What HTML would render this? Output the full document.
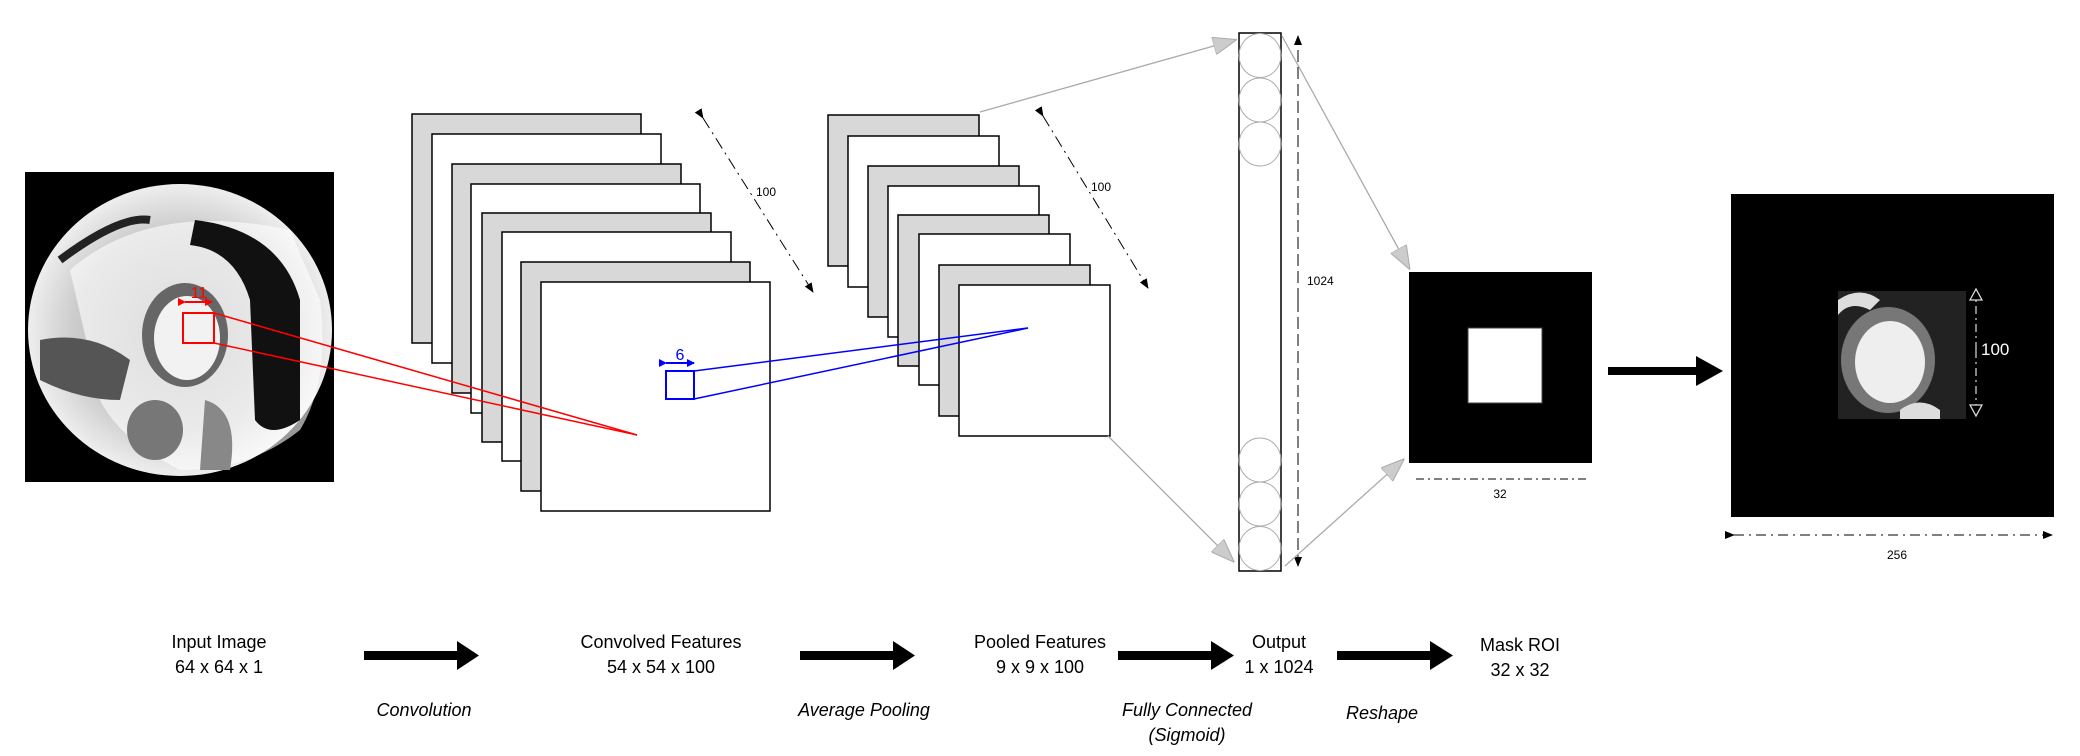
<!DOCTYPE html>
<html><head><meta charset="utf-8"><style>
html,body{margin:0;padding:0;background:#fff}
svg{display:block}
text{font-family:"Liberation Sans",sans-serif}
</style></head><body>
<svg width="2080" height="756" viewBox="0 0 2080 756" xmlns="http://www.w3.org/2000/svg">
<defs>
<marker id="ga" markerWidth="24" markerHeight="18" refX="22" refY="9" orient="auto" markerUnits="userSpaceOnUse">
<path d="M0,0 L24,9 L0,18 Z" fill="#ccc" stroke="#aaa" stroke-width="1"/></marker>
<marker id="ka" markerWidth="10" markerHeight="10" refX="9" refY="5" orient="auto" markerUnits="userSpaceOnUse">
<path d="M0,1 L10,5 L0,9 Z" fill="#000"/></marker>
<marker id="ra" markerWidth="8" markerHeight="8" refX="7" refY="4" orient="auto" markerUnits="userSpaceOnUse">
<path d="M0,0 L8,4 L0,8 Z" fill="#f00"/></marker>
<marker id="ba" markerWidth="8" markerHeight="8" refX="7" refY="4" orient="auto" markerUnits="userSpaceOnUse">
<path d="M0,0 L8,4 L0,8 Z" fill="#00f"/></marker>
<marker id="wa" markerWidth="14" markerHeight="14" refX="12" refY="7" orient="auto" markerUnits="userSpaceOnUse">
<path d="M1,1 L12,7 L1,13 Z" fill="#000" stroke="#ddd" stroke-width="1.3"/></marker>
<radialGradient id="mri" cx="0.5" cy="0.5" r="0.5">
<stop offset="0" stop-color="#aaa"/><stop offset="0.7" stop-color="#ccc"/><stop offset="1" stop-color="#eee"/></radialGradient>
</defs>

<!-- Input image -->
<rect x="25" y="172" width="309" height="310" fill="#000"/>
<ellipse cx="180" cy="330" rx="152" ry="146" fill="url(#mri)"/>
<path d="M70,270 Q150,200 290,230 L320,300 Q330,380 300,430 Q250,470 180,470 Q120,440 100,400 Z" fill="#fff" opacity="0.6"/>
<path d="M195,220 Q280,230 300,300 L300,420 Q270,440 255,420 L250,300 Q235,250 190,245 Z" fill="#111"/>
<ellipse cx="185" cy="335" rx="43" ry="52" fill="#666"/>
<ellipse cx="187" cy="338" rx="33" ry="42" fill="#f2f2f2"/>
<path d="M40,340 Q90,330 130,360 L120,400 Q80,400 40,380 Z" fill="#555"/>
<ellipse cx="155" cy="430" rx="28" ry="30" fill="#777"/>
<path d="M205,400 Q240,410 230,470 L200,470 Z" fill="#888"/>
<path d="M60,260 Q120,215 150,220" stroke="#222" stroke-width="8" fill="none"/>
<rect x="183" y="313" width="31" height="30" fill="none" stroke="#f00" stroke-width="2"/>
<line x1="185" y1="302" x2="212" y2="302" stroke="#f00" stroke-width="2" marker-end="url(#ra)" marker-start="url(#ra)"/>
<text x="199" y="298" font-size="16" fill="#f00" text-anchor="middle">11</text>

<!-- Conv stack -->
<g stroke="#000" stroke-width="1.5">
<rect x="412" y="114" width="229" height="229" fill="#d8d8d8"/>
<rect x="432" y="134" width="229" height="229" fill="#fff"/>
<rect x="452" y="164" width="229" height="229" fill="#d8d8d8"/>
<rect x="471" y="184" width="229" height="229" fill="#fff"/>
<rect x="482" y="213" width="229" height="229" fill="#d8d8d8"/>
<rect x="502" y="232" width="229" height="229" fill="#fff"/>
<rect x="521" y="262" width="229" height="229" fill="#d8d8d8"/>
<rect x="541" y="282" width="229" height="229" fill="#fff"/>
</g>
<line x1="214" y1="313" x2="637" y2="435" stroke="#f00" stroke-width="1.5"/>
<line x1="214" y1="343" x2="637" y2="435" stroke="#f00" stroke-width="1.5"/>
<rect x="666" y="371" width="28" height="28" fill="none" stroke="#00f" stroke-width="2"/>
<line x1="666" y1="363" x2="694" y2="363" stroke="#00f" stroke-width="2" marker-end="url(#ba)" marker-start="url(#ba)"/>
<text x="680" y="360" font-size="16" fill="#00f" text-anchor="middle">6</text>
<line x1="703" y1="118" x2="813" y2="292" stroke="#000" stroke-width="1" stroke-dasharray="12,5,2,5" marker-end="url(#ka)" marker-start="url(#ka)"/>
<text x="756" y="196" font-size="12">100</text>

<!-- Pool stack -->
<g stroke="#000" stroke-width="1.5">
<rect x="828" y="115" width="151" height="151" fill="#d8d8d8"/>
<rect x="848" y="136" width="151" height="151" fill="#fff"/>
<rect x="868" y="166" width="151" height="151" fill="#d8d8d8"/>
<rect x="888" y="186" width="151" height="151" fill="#fff"/>
<rect x="898" y="215" width="151" height="151" fill="#d8d8d8"/>
<rect x="919" y="234" width="151" height="151" fill="#fff"/>
<rect x="939" y="265" width="151" height="151" fill="#d8d8d8"/>
<rect x="959" y="285" width="151" height="151" fill="#fff"/>
</g>
<line x1="694" y1="371" x2="1028" y2="328" stroke="#00f" stroke-width="1.5"/>
<line x1="694" y1="399" x2="1028" y2="328" stroke="#00f" stroke-width="1.5"/>
<line x1="1043" y1="116" x2="1148" y2="288" stroke="#000" stroke-width="1" stroke-dasharray="12,5,2,5" marker-end="url(#ka)" marker-start="url(#ka)"/>
<text x="1091" y="191" font-size="12">100</text>
<line x1="980" y1="112" x2="1235" y2="40" stroke="#aaa" stroke-width="1.3" marker-end="url(#ga)"/>
<line x1="1108" y1="436" x2="1233" y2="561" stroke="#aaa" stroke-width="1.3" marker-end="url(#ga)"/>

<!-- FC -->
<rect x="1239" y="33" width="42" height="538" fill="#fff" stroke="#000" stroke-width="1.5"/>
<g fill="none" stroke="#aaa" stroke-width="1">
<ellipse cx="1260" cy="55.5" rx="21" ry="22"/>
<ellipse cx="1260" cy="100" rx="21" ry="22"/>
<ellipse cx="1260" cy="144" rx="21" ry="22"/>
<ellipse cx="1260" cy="460" rx="21" ry="22"/>
<ellipse cx="1260" cy="504" rx="21" ry="22"/>
<ellipse cx="1260" cy="548.5" rx="21" ry="22"/>
</g>
<line x1="1298" y1="300" x2="1298" y2="36" stroke="#000" stroke-width="1" stroke-dasharray="12,5" marker-end="url(#ka)"/>
<line x1="1298" y1="300" x2="1298" y2="566" stroke="#000" stroke-width="1" stroke-dasharray="12,5" marker-end="url(#ka)"/>
<text x="1307" y="285" font-size="12">1024</text>
<line x1="1282" y1="36" x2="1409" y2="268" stroke="#aaa" stroke-width="1.3" marker-end="url(#ga)"/>
<line x1="1285" y1="566" x2="1403" y2="460" stroke="#aaa" stroke-width="1.3" marker-end="url(#ga)"/>

<!-- Mask -->
<rect x="1409" y="272" width="183" height="191" fill="#000"/>
<rect x="1468" y="328" width="74" height="75" fill="#fff" stroke="#444"/>
<line x1="1416" y1="479" x2="1587" y2="479" stroke="#000" stroke-width="1" stroke-dasharray="8,4,2,4"/>
<text x="1500" y="498" font-size="12" text-anchor="middle">32</text>

<!-- big arrow -->
<rect x="1608" y="367" width="90" height="8" fill="#000"/>
<path d="M1696,356 L1723,371 L1696,386 Z" fill="#000"/>

<!-- Output image -->
<rect x="1731" y="194" width="323" height="323" fill="#000"/>
<rect x="1838" y="291" width="128" height="128" fill="#222"/>
<ellipse cx="1888" cy="360" rx="47" ry="53" fill="#777"/>
<ellipse cx="1890" cy="362" rx="35" ry="41" fill="#eee"/>
<path d="M1838,300 Q1860,285 1880,300 L1870,310 Q1850,300 1838,315 Z" fill="#ddd"/>
<path d="M1900,410 Q1920,395 1940,410 L1940,419 L1900,419 Z" fill="#ddd"/>
<line x1="1976" y1="350" x2="1976" y2="289" stroke="#ccc" stroke-width="1.3" stroke-dasharray="8,4,2,4" marker-end="url(#wa)"/>
<line x1="1976" y1="350" x2="1976" y2="416" stroke="#ccc" stroke-width="1.3" stroke-dasharray="8,4,2,4" marker-end="url(#wa)"/>
<text x="1981" y="355" font-size="17" fill="#fff">100</text>
<line x1="1734" y1="535" x2="2052" y2="535" stroke="#000" stroke-width="1" stroke-dasharray="10,5,2,5" marker-end="url(#ka)" marker-start="url(#ka)"/>
<text x="1897" y="559" font-size="12" text-anchor="middle">256</text>

<!-- bottom labels -->
<g font-size="18" text-anchor="middle">
<text x="219" y="648">Input Image</text><text x="219" y="673">64 x 64 x 1</text>
<text x="661" y="648">Convolved Features</text><text x="661" y="673">54 x 54 x 100</text>
<text x="1040" y="648">Pooled Features</text><text x="1040" y="673">9 x 9 x 100</text>
<text x="1279" y="648">Output</text><text x="1279" y="673">1 x 1024</text>
<text x="1520" y="651">Mask ROI</text><text x="1520" y="676">32 x 32</text>
<g font-style="italic">
<text x="424" y="716">Convolution</text>
<text x="864" y="716">Average Pooling</text>
<text x="1187" y="716">Fully Connected</text><text x="1187" y="741">(Sigmoid)</text>
<text x="1382" y="719">Reshape</text>
</g></g>
<g fill="#000">
<rect x="364" y="651" width="95" height="9"/><path d="M457,641 L479,655.5 L457,670 Z"/>
<rect x="800" y="651" width="95" height="9"/><path d="M893,641 L915,655.5 L893,670 Z"/>
<rect x="1118" y="651" width="95" height="9"/><path d="M1211,641 L1234,655.5 L1211,670 Z"/>
<rect x="1337" y="651" width="95" height="9"/><path d="M1430,641 L1453,655.5 L1430,670 Z"/>
</g>
</svg>
</body></html>
